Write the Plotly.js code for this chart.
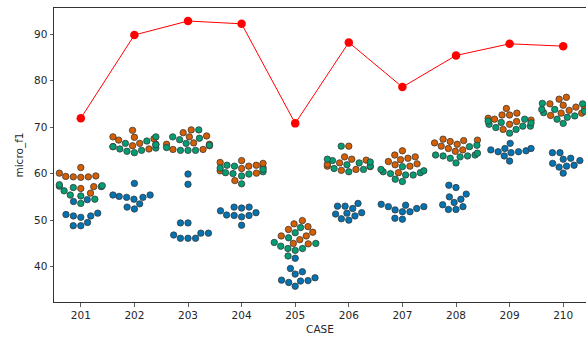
<!DOCTYPE html>
<html><head><meta charset="utf-8">
<script src="https://cdn.plot.ly/plotly-3.0.1.min.js"></script>
<style>html,body{margin:0;padding:0;overflow:hidden;background:#fff}</style>
</head><body><div id="chart" style="width:586px;height:340px"></div>
<script>
const cases = ['201','202','203','204','205','206','207','208','209','210'];
const blueVals = [
  [54.4, 54.0, 51.5, 51.2, 50.9, 50.9, 50.6, 49.5, 48.8, 48.8],
  [57.9, 55.4, 55.4, 55.1, 54.9, 54.9, 54.5, 53.5, 52.8, 52.4],
  [59.9, 57.7, 49.4, 49.4, 47.2, 47.2, 46.8, 46.1, 46.1, 46.1],
  [52.8, 52.8, 52.6, 52.0, 51.6, 51.1, 51.0, 51.0, 50.7, 48.9],
  [41.8, 39.6, 38.9, 38.4, 37.6, 37.1, 37.0, 36.9, 36.6, 35.8],
  [53.6, 53.0, 53.0, 52.5, 51.6, 51.5, 51.3, 50.9, 50.3, 50.0],
  [53.4, 53.2, 52.9, 52.9, 52.5, 52.2, 51.8, 51.8, 50.4, 50.2],
  [57.5, 57.0, 55.6, 55.0, 54.5, 53.8, 53.3, 52.9, 52.3, 52.3],
  [66.5, 65.4, 65.4, 65.1, 64.9, 64.7, 64.7, 64.5, 63.8, 62.7],
  [64.5, 64.5, 63.3, 63.1, 62.8, 62.2, 61.8, 61.6, 61.4, 60.1]
];
const orangeVals = [
  [61.3, 60.1, 59.5, 59.4, 59.3, 59.3, 59.2, 57.2, 56.8, 55.8],
  [69.3, 67.9, 67.8, 67.5, 67.2, 66.5, 66.3, 66.0, 65.8, 65.3],
  [69.4, 68.8, 68.1, 67.9, 66.6, 66.3, 66.3, 66.0, 65.2, 65.2],
  [62.8, 62.4, 62.2, 61.8, 61.6, 61.3, 61.1, 60.6, 60.1, 58.5],
  [49.9, 49.2, 48.6, 48.0, 47.4, 46.6, 46.6, 45.8, 45.0, 44.9],
  [65.9, 63.6, 63.1, 62.9, 62.3, 62.0, 61.6, 61.5, 60.9, 60.7],
  [64.9, 64.0, 63.6, 63.3, 63.0, 62.6, 62.1, 61.9, 61.6, 60.2],
  [67.4, 67.2, 67.1, 66.9, 66.6, 66.3, 65.9, 65.4, 65.1, 64.8],
  [74.0, 73.0, 72.6, 72.6, 71.9, 71.7, 71.5, 71.2, 70.6, 69.5],
  [76.4, 76.0, 75.0, 74.7, 74.3, 74.0, 73.6, 73.0, 73.0, 72.5]
];
const greenVals = [
  [57.6, 57.4, 57.3, 57.2, 57.0, 56.3, 55.4, 55.2, 54.5, 53.6],
  [67.9, 67.0, 66.5, 66.2, 65.8, 65.5, 65.3, 65.0, 64.8, 64.5],
  [69.4, 67.9, 67.6, 67.3, 66.5, 66.1, 65.6, 65.0, 65.0, 65.0],
  [61.8, 61.6, 61.2, 60.9, 60.4, 60.2, 60.0, 59.9, 59.5, 57.8],
  [48.4, 47.3, 46.2, 45.2, 45.0, 44.4, 43.9, 43.9, 43.5, 42.3],
  [65.9, 63.1, 62.8, 62.5, 62.3, 61.9, 61.6, 61.1, 60.9, 60.4],
  [61.5, 60.9, 60.6, 60.4, 60.2, 60.0, 59.7, 59.7, 58.8, 58.3],
  [66.1, 65.8, 64.4, 64.0, 64.0, 63.8, 63.8, 63.6, 63.3, 62.3],
  [71.7, 71.3, 71.0, 70.9, 70.6, 70.2, 70.2, 69.9, 69.5, 68.7],
  [75.1, 75.0, 73.8, 73.8, 73.4, 73.1, 72.4, 72.1, 71.7, 70.8]
];
const lineVals = [71.9, 89.8, 92.8, 92.2, 70.8, 88.2, 78.6, 85.4, 87.9, 87.4];

const hueNames = ['blue', 'orange', 'green'];
const hueColors = ['#0173b2', '#d55e00', '#029e73'];
const hueData = [blueVals, orangeVals, greenVals];

const W = 586, H = 340, M = {l: 54, r: 0, t: 8, b: 38};
const catPx = 53.6;
const xRange = [-0.5, -0.5 + (W - M.l - M.r) / catPx];
const yRange = [32.4, 95.6];
const pxPerX = (W - M.l - M.r) / (xRange[1] - xRange[0]);
const pxPerY = (H - M.t - M.b) / (yRange[1] - yRange[0]);
const D = 7.2;

function swarm(points, center) {
  const sorted = points.slice().sort((a, b) => a.v - b.v);
  const placed = [];
  for (const p of sorted) {
    const y = p.v * pxPerY;
    const neighbors = placed.filter(q => y - q.y < D);
    const cands = [0];
    let leftFirst = true;
    for (const q of neighbors) {
      const dy = y - q.y;
      const dx = Math.sqrt(Math.max(D * D - dy * dy, 0)) * 1.05;
      if (leftFirst) cands.push(q.x - dx, q.x + dx); else cands.push(q.x + dx, q.x - dx);
      leftFirst = !leftFirst;
    }
    const order = cands.map((c, i) => [c, i]).sort((a, b) => (Math.abs(a[0]) - Math.abs(b[0])) || (a[1] - b[1]));
    let xPos = 0;
    for (const [c] of order) {
      if (neighbors.every(q => (q.x - c) ** 2 + (q.y - y) ** 2 >= D * D - 1e-9)) { xPos = c; break; }
    }
    placed.push({x: xPos, y: y, v: p.v, hue: p.hue});
  }
  const half = 0.4 * pxPerX;
  placed.forEach(q => { q.x = Math.max(-half, Math.min(half, q.x)); });
  return placed.map(q => ({x: center + q.x / pxPerX, v: q.v, hue: q.hue}));
}

const hx = [[], [], []], hy = [[], [], []];
cases.forEach((c, ci) => {
  const pts = [];
  hueData.forEach((arr, hi) => arr[ci].forEach(v => pts.push({v: v, hue: hi})));
  swarm(pts, ci).forEach(p => { hx[p.hue].push(p.x); hy[p.hue].push(p.v); });
});

const traces = hueNames.map((n, hi) => ({
  type: 'scatter', mode: 'markers', name: n, x: hx[hi], y: hy[hi],
  marker: {size: 6.4, color: hueColors[hi], line: {width: 0.8, color: '#3a3a3a'}},
  hoverinfo: 'y'
}));
traces.push({
  type: 'scatter', mode: 'lines+markers', name: 'best',
  x: cases.map((c, i) => i), y: lineVals,
  line: {color: '#ff0000', width: 1},
  marker: {size: 8.5, color: '#ff0000'}
});

const axFont = {family: 'DejaVu Sans', size: 10.5, color: '#262626'};
const layout = {
  width: W, height: H, margin: M,
  paper_bgcolor: '#fff', plot_bgcolor: '#fff',
  showlegend: false,
  font: axFont,
  xaxis: {
    range: xRange, tickvals: cases.map((c, i) => i), ticktext: cases,
    showgrid: false, zeroline: false, showline: true, mirror: true,
    linecolor: '#333', linewidth: 1, ticks: 'outside', ticklen: 3.5, tickwidth: 0.8, tickcolor: '#333',
    tickfont: axFont,
    title: {text: 'CASE', font: axFont, standoff: 5}
  },
  yaxis: {
    range: yRange, tickvals: [40, 50, 60, 70, 80, 90],
    showgrid: false, zeroline: false, showline: true,
    linecolor: '#333', linewidth: 1, ticks: 'outside', ticklen: 3.5, tickwidth: 0.8, tickcolor: '#333',
    tickfont: axFont,
    title: {text: 'micro_f1', font: axFont, standoff: 8}
  }
};
Plotly.newPlot('chart', traces, layout, {displayModeBar: false, staticPlot: true});
</script></body></html>
